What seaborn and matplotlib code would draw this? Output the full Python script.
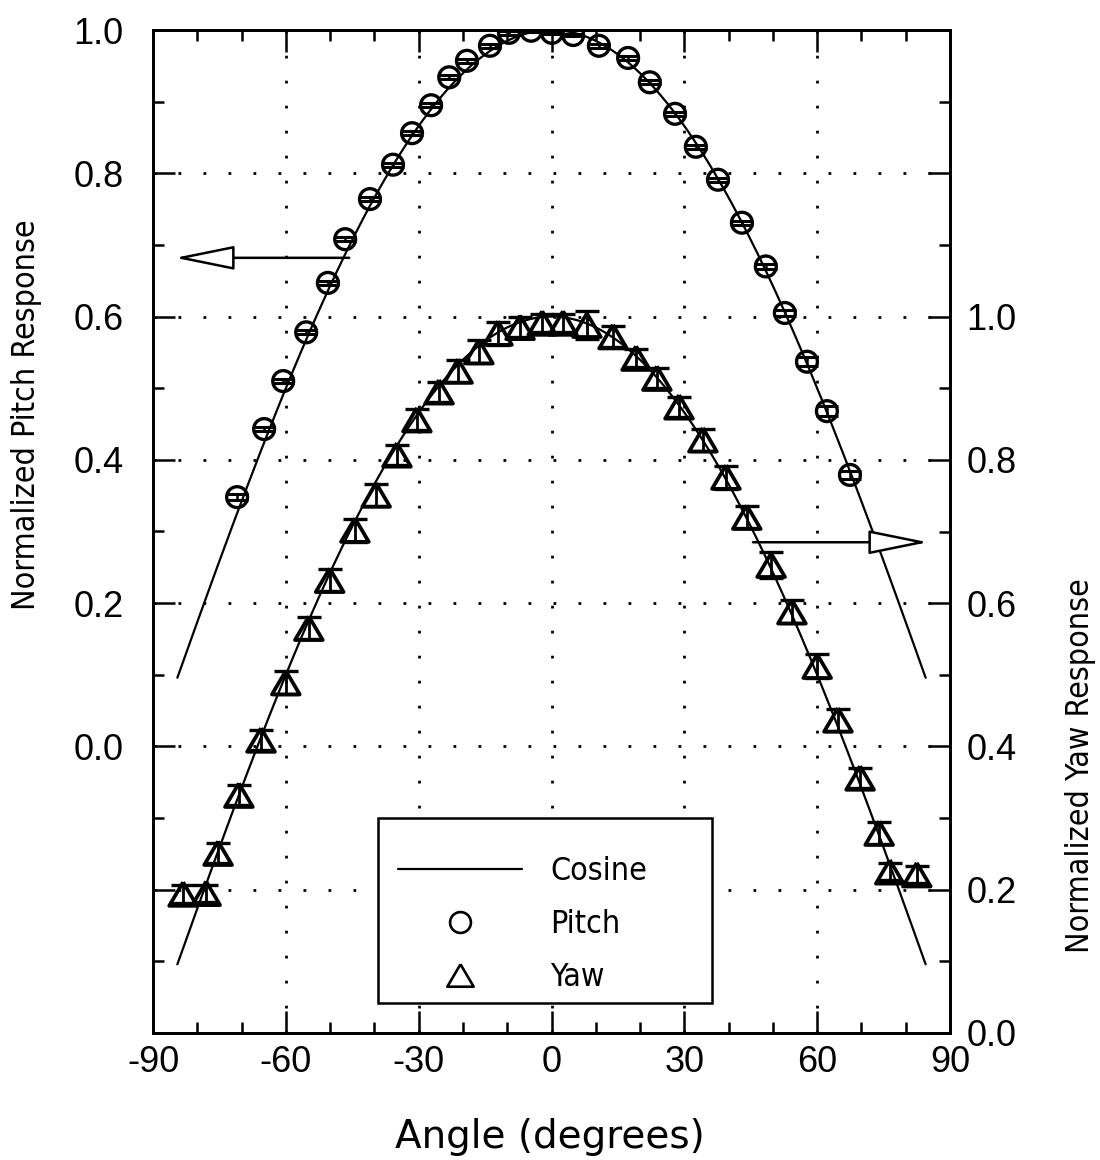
import numpy as np
import matplotlib
matplotlib.use("Agg")
import matplotlib.pyplot as plt
import seaborn as sns
from matplotlib import font_manager
from matplotlib.lines import Line2D
from matplotlib.patches import Rectangle
from matplotlib.ticker import MultipleLocator, FuncFormatter

# ---------------------------------------------------------------------------
# Data
# ---------------------------------------------------------------------------
# Pitch response (left axis), angle in degrees
pitch_angle = [-71.0, -64.9, -60.6, -55.4, -50.5, -46.6, -41.0, -35.8, -31.5, -27.2,
               -23.1, -19.1, -13.9, -9.6, -4.6, 0.1, 4.9, 10.7, 17.3, 22.2,
               27.9, 32.6, 37.6, 43.0, 48.4, 52.7, 57.7, 62.2, 67.4]
pitch_resp = [0.348, 0.443, 0.510, 0.578, 0.647, 0.708, 0.764, 0.812, 0.856, 0.895,
              0.934, 0.957, 0.978, 0.996, 0.999, 0.996, 0.993, 0.978, 0.961, 0.927,
              0.883, 0.837, 0.791, 0.731, 0.670, 0.605, 0.537, 0.468, 0.379]
pitch_err = [0.004, 0.003, 0.003, 0.003, 0.003, 0.003, 0.003, 0.003, 0.003, 0.003,
             0.003, 0.003, 0.003, 0.003, 0.002, 0.002, 0.002, 0.003, 0.003, 0.003,
             0.003, 0.003, 0.003, 0.003, 0.003, 0.004, 0.006, 0.007, 0.006]

# Yaw response (right axis)
yaw_angle = [-83.2, -78.0, -75.3, -70.6, -65.6, -60.0, -54.8, -50.1, -44.4, -39.6,
             -34.9, -30.4, -25.4, -21.1, -16.4, -12.1, -7.1, -2.1, 2.6, 8.0,
             13.9, 19.1, 23.8, 28.8, 34.2, 39.4, 44.1, 49.6, 54.3, 60.0,
             64.7, 69.7, 74.0, 76.4, 82.5]
yaw_resp = [0.194, 0.195, 0.251, 0.332, 0.409, 0.489, 0.565, 0.632, 0.702, 0.751,
            0.807, 0.856, 0.895, 0.924, 0.951, 0.977, 0.985, 0.991, 0.991, 0.988,
            0.972, 0.942, 0.914, 0.874, 0.828, 0.776, 0.720, 0.653, 0.588, 0.512,
            0.437, 0.356, 0.279, 0.225, 0.221]
yaw_err = [0.012, 0.012, 0.014, 0.014, 0.014, 0.016, 0.015, 0.015, 0.016, 0.015,
           0.014, 0.015, 0.014, 0.015, 0.016, 0.016, 0.014, 0.012, 0.012, 0.020,
           0.015, 0.013, 0.014, 0.014, 0.015, 0.016, 0.015, 0.018, 0.016, 0.017,
           0.015, 0.014, 0.015, 0.012, 0.012]

# Ideal cosine response over the measured span
cos_limit = 84.5

x_ticks = [-90, -60, -30, 0, 30, 60, 90]

# ---------------------------------------------------------------------------
# Style
# ---------------------------------------------------------------------------
sns.set_theme(style="white")
plt.rcParams["font.family"] = ["Liberation Sans", "DejaVu Sans"]
plt.rcParams["axes.unicode_minus"] = False
for key in ("text.color", "axes.labelcolor", "xtick.color", "ytick.color",
            "xtick.labelcolor", "ytick.labelcolor"):
    plt.rcParams[key] = "black"

# Narrow face for titles and legend: DejaVu Sans Condensed when present
_condensed = any(f.name == "DejaVu Sans" and str(f.stretch) in ("condensed", "semi-condensed")
                 for f in font_manager.fontManager.ttflist)
narrow = dict(family=["DejaVu Sans"], stretch="condensed")
ylabel_size = 23 if _condensed else 20.5
legend_size = 23 if _condensed else 20

fig = plt.figure(figsize=(11, 11.6), dpi=100)
ax = fig.add_axes([153 / 1100, 1 - 1033 / 1160, 797 / 1100, 1003 / 1160])
ax2 = ax.twinx()

# ---------------------------------------------------------------------------
# Cosine curves
# ---------------------------------------------------------------------------
cos_x = np.linspace(-cos_limit, cos_limit, 339)
cos_y = np.cos(np.radians(cos_x))
sns.lineplot(x=cos_x, y=cos_y, ax=ax, color="black", linewidth=1.6, zorder=3)
sns.lineplot(x=cos_x, y=cos_y, ax=ax2, color="black", linewidth=1.6, zorder=3)

# ---------------------------------------------------------------------------
# Measurements with error bars
# ---------------------------------------------------------------------------
ax.errorbar(pitch_angle, pitch_resp, yerr=pitch_err, fmt="none", ecolor="black",
            elinewidth=1.8, capsize=7.8, capthick=2.2, zorder=4)
sns.scatterplot(x=pitch_angle, y=pitch_resp, ax=ax, marker="o", s=15 ** 2,
                facecolors="none", edgecolor="black", linewidth=2.4, zorder=5)

tri = [(0, 0.85), (-1, -0.85), (1, -0.85), (0, 0.85)]
ax2.errorbar(yaw_angle, yaw_resp, yerr=yaw_err, fmt="none", ecolor="black",
             elinewidth=2.0, capsize=8.5, capthick=2.4, zorder=4)
sns.scatterplot(x=yaw_angle, y=yaw_resp, ax=ax2, marker=tri, s=20 ** 2,
                facecolors="none", edgecolor="black", linewidth=2.7, zorder=5)

# ---------------------------------------------------------------------------
# Axes, ticks, grid
# ---------------------------------------------------------------------------
ax.set_xlim(-90, 90)
ax.set_ylim(-0.4, 1.0)
ax2.set_ylim(0.0, 1.4)

ax.set_xticks(x_ticks)
ax.xaxis.set_minor_locator(MultipleLocator(10))
ax.yaxis.set_major_locator(MultipleLocator(0.2))
ax.yaxis.set_minor_locator(MultipleLocator(0.1))
ax2.yaxis.set_major_locator(MultipleLocator(0.2))
ax2.yaxis.set_minor_locator(MultipleLocator(0.1))


def _fmt(lo, hi):
    def f(v, pos):
        r = round(v, 1) + 0.0
        return f"{r:.1f}" if lo - 1e-6 <= r <= hi + 1e-6 else ""
    return FuncFormatter(f)


ax.yaxis.set_major_formatter(_fmt(0.0, 1.0))
ax2.yaxis.set_major_formatter(_fmt(0.0, 1.0))
ax.xaxis.set_major_formatter(FuncFormatter(lambda v, p: f"{int(round(v))}"))

ax.tick_params(axis="both", which="both", direction="in", color="black",
               width=1.8, top=True, bottom=True, left=True, right=False)
ax.tick_params(which="major", length=16)
ax.tick_params(which="minor", length=8)
ax.tick_params(axis="y", which="major", pad=21, labelsize=26)
ax.tick_params(axis="x", which="major", pad=9, labelsize=26)

ax2.tick_params(axis="y", which="both", direction="in", color="black",
                width=1.8, left=False, right=True)
ax2.tick_params(which="major", length=16, pad=12, labelsize=26)
ax2.tick_params(which="minor", length=8)

for a in (ax, ax2):
    for s in a.spines.values():
        s.set_visible(True)
        s.set_color("black")
        s.set_linewidth(2.0)

ax.grid(True, which="major", color="black", linestyle=(0, (1, 8)), linewidth=2.0)
ax.set_axisbelow(True)

# Axis titles
ax.set_xlabel("Angle (degrees)", fontsize=28, family=["DejaVu Sans"])
ax.xaxis.set_label_coords(0.498, -0.085)
ax.set_ylabel("Normalized Pitch Response", fontsize=ylabel_size, **narrow)
ax.yaxis.set_label_coords(-0.139, 0.616)
ax2.set_ylabel("Normalized Yaw Response", fontsize=ylabel_size, **narrow)
ax2.yaxis.set_label_coords(1.144, 0.267)

# ---------------------------------------------------------------------------
# Arrows pointing to the relevant axis
# ---------------------------------------------------------------------------
arrow_kw = dict(arrowstyle="-|>,head_length=1.87,head_width=0.38", fc="white",
                ec="black", lw=1.8, shrinkA=0, shrinkB=0, mutation_scale=20)
ax.annotate("", xy=(-85.0, 0.682), xytext=(-45.7, 0.682), arrowprops=arrow_kw,
            zorder=6)
ax2.annotate("", xy=(85.0, 0.685), xytext=(45.5, 0.685), arrowprops=arrow_kw,
             zorder=6)

# ---------------------------------------------------------------------------
# Legend
# ---------------------------------------------------------------------------
ax2.add_patch(Rectangle((0.282, 0.0299), 0.4193, 0.1845, transform=ax2.transAxes,
                        facecolor="white", edgecolor="black", linewidth=1.8,
                        zorder=8))
handles = [
    Line2D([], [], color="black", linewidth=1.6),
    Line2D([], [], color="black", marker="o", linestyle="none", markersize=15,
           markerfacecolor="none", markeredgewidth=1.9),
    Line2D([], [], color="black", marker=tri, linestyle="none", markersize=19,
           markerfacecolor="none", markeredgewidth=1.9),
]
leg_prop = font_manager.FontProperties(family=narrow["family"], stretch="condensed",
                                       size=legend_size)
px_per_em = legend_size * 100 / 72
leg = ax2.legend(handles, ["Cosine", "Pitch", "Yaw"], loc="upper left",
                 bbox_to_anchor=(0.3074, 0.176), frameon=False, prop=leg_prop,
                 handlelength=124 / px_per_em,
                 handletextpad=28 / px_per_em,
                 labelspacing=22 / px_per_em,
                 borderpad=0, borderaxespad=0)
leg.set_zorder(9)

fig.savefig("out.png", dpi=100)
